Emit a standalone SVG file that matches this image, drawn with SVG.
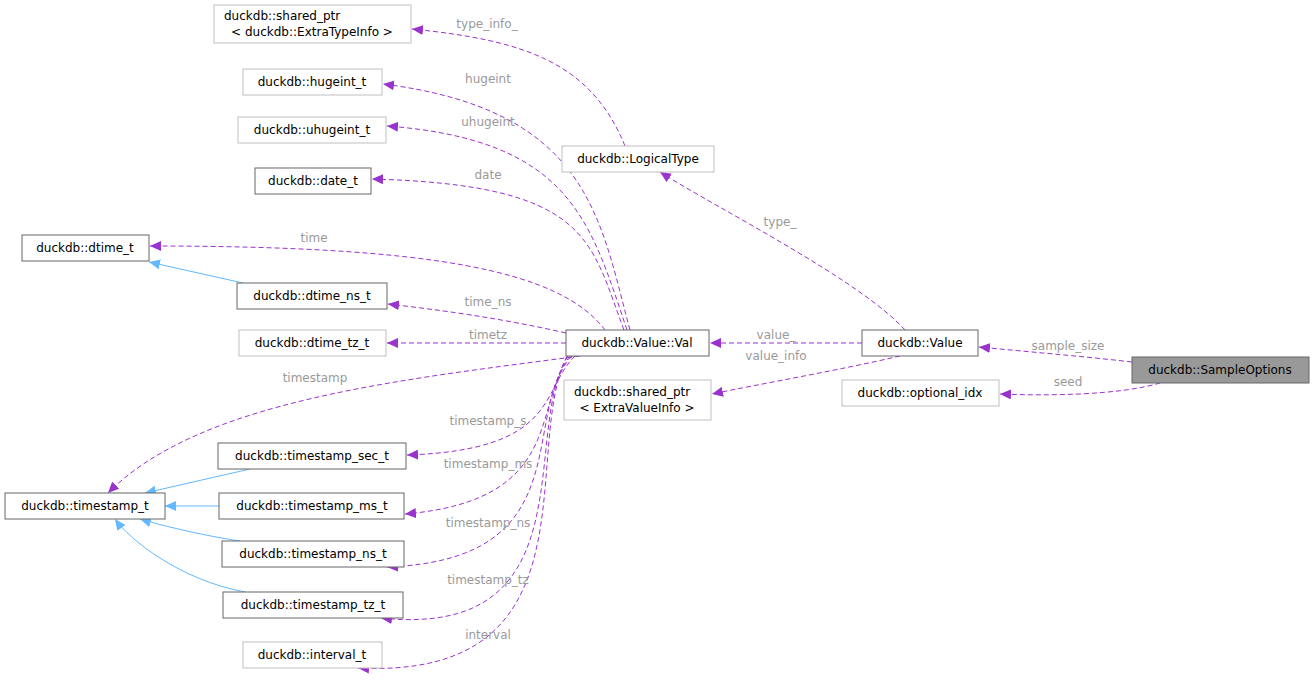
<svg xmlns="http://www.w3.org/2000/svg" width="1315" height="683" viewBox="0 0 1315 683">
<defs>
<style>
.n rect{fill:#fff;stroke:#666;stroke-width:1}
.n.l rect{stroke:#bfbfbf}
.n.f rect{fill:#999;stroke:#666}
text{font-family:"DejaVu Sans",sans-serif;font-size:12px;fill:#000}
.lb{fill:#9a9a9a;font-size:12px;text-anchor:middle}
.e{fill:none;stroke:#9a32cd;stroke-dasharray:5,3}
.i{fill:none;stroke:#63b8ff}
</style>
<marker id="ap" markerWidth="12" markerHeight="10" refX="11" refY="5" orient="auto" markerUnits="userSpaceOnUse"><path d="M0,0 L11,5 L0,10 z" fill="#9a32cd"/></marker>
<marker id="ab" markerWidth="12" markerHeight="10" refX="11" refY="5" orient="auto" markerUnits="userSpaceOnUse"><path d="M0,0 L11,5 L0,10 z" fill="#63b8ff"/></marker>
</defs>
<rect width="1315" height="683" fill="#fff"/>
<g id="edges">
<path class="e" marker-end="url(#ap)" d="M1132,362 C1080,356 1030,352 979,347"/>
<path class="e" marker-end="url(#ap)" d="M1160,383 C1120,395 1050,396 1000,394"/>
<path class="e" marker-end="url(#ap)" d="M862,343 L710,343"/>
<path class="e" marker-end="url(#ap)" d="M900,356 C840,370 760,384 712,394"/>
<path class="e" marker-end="url(#ap)" d="M905,330 C860,280 720,210 660,172"/>
<path class="e" marker-end="url(#ap)" d="M625,146 C590,60 520,40 412,29"/>
<path class="e" marker-end="url(#ap)" d="M630,330 C600,220 590,110 383,84"/>
<path class="e" marker-end="url(#ap)" d="M627,330 C590,220 570,140 387,126"/>
<path class="e" marker-end="url(#ap)" d="M624,330 C590,240 590,185 372,179"/>
<path class="e" marker-end="url(#ap)" d="M605,330 C560,270 430,246 150,246"/>
<path class="e" marker-end="url(#ap)" d="M566,333 C500,318 440,310 388,304"/>
<path class="e" marker-end="url(#ap)" d="M566,343 L387,343"/>
<path class="e" marker-end="url(#ap)" d="M580,356 C400,380 200,400 108,493"/>
<path class="e" marker-end="url(#ap)" d="M575,356 C540,390 560,450 407,455"/>
<path class="e" marker-end="url(#ap)" d="M572,356 C530,400 570,500 405,514"/>
<path class="e" marker-end="url(#ap)" d="M570,356 C520,420 580,560 387,567"/>
<path class="e" marker-end="url(#ap)" d="M568,356 C520,430 590,640 381,618"/>
<path class="e" marker-end="url(#ap)" d="M567,356 C520,450 600,680 358,668"/>
<path class="i" marker-end="url(#ab)" d="M243,283 L149,262"/>
<path class="i" marker-end="url(#ab)" d="M250,469 L145,493"/>
<path class="i" marker-end="url(#ab)" d="M219,506 L165,506"/>
<path class="i" marker-end="url(#ab)" d="M240,541 C200,535 160,525 140,519"/>
<path class="i" marker-end="url(#ab)" d="M245,592 C180,580 130,540 115,519"/>
<text class="lb" x="1068" y="350">sample_size</text>
<text class="lb" x="1068" y="386">seed</text>
<text class="lb" x="776" y="339">value_</text>
<text class="lb" x="776" y="360">value_info</text>
<text class="lb" x="780" y="226">type_</text>
<text class="lb" x="487" y="28">type_info_</text>
<text class="lb" x="488" y="83">hugeint</text>
<text class="lb" x="488" y="126">uhugeint</text>
<text class="lb" x="488" y="179">date</text>
<text class="lb" x="314" y="242">time</text>
<text class="lb" x="488" y="306">time_ns</text>
<text class="lb" x="488" y="339">timetz</text>
<text class="lb" x="315" y="382">timestamp</text>
<text class="lb" x="488" y="425">timestamp_s</text>
<text class="lb" x="488" y="468">timestamp_ms</text>
<text class="lb" x="488" y="527">timestamp_ns</text>
<text class="lb" x="488" y="584">timestamp_tz</text>
<text class="lb" x="488" y="639">interval</text>
</g>
<g id="n1" class="n l"><rect x="214" y="5" width="197" height="38"/><text x="224" y="20">duckdb::shared_ptr</text><text x="312" y="36" text-anchor="middle">&lt; duckdb::ExtraTypeInfo &gt;</text></g>
<g id="n2" class="n l"><rect x="243" y="69" width="139" height="26"/><text x="312" y="86" text-anchor="middle">duckdb::hugeint_t</text></g>
<g id="n3" class="n l"><rect x="238" y="117" width="148" height="26"/><text x="312" y="134" text-anchor="middle">duckdb::uhugeint_t</text></g>
<g id="n4" class="n"><rect x="255" y="168" width="116" height="26"/><text x="313" y="185" text-anchor="middle">duckdb::date_t</text></g>
<g id="n5" class="n"><rect x="22" y="235" width="127" height="26"/><text x="85" y="252" text-anchor="middle">duckdb::dtime_t</text></g>
<g id="n6" class="n"><rect x="237" y="283" width="150" height="26"/><text x="312" y="300" text-anchor="middle">duckdb::dtime_ns_t</text></g>
<g id="n7" class="n l"><rect x="239" y="330" width="147" height="26"/><text x="312" y="347" text-anchor="middle">duckdb::dtime_tz_t</text></g>
<g id="n8" class="n"><rect x="5" y="493" width="160" height="26"/><text x="85" y="510" text-anchor="middle">duckdb::timestamp_t</text></g>
<g id="n9" class="n"><rect x="218" y="443" width="188" height="26"/><text x="312" y="460" text-anchor="middle">duckdb::timestamp_sec_t</text></g>
<g id="n10" class="n"><rect x="219" y="493" width="185" height="26"/><text x="312" y="510" text-anchor="middle">duckdb::timestamp_ms_t</text></g>
<g id="n11" class="n"><rect x="222" y="541" width="182" height="26"/><text x="313" y="558" text-anchor="middle">duckdb::timestamp_ns_t</text></g>
<g id="n12" class="n"><rect x="223" y="592" width="180" height="26"/><text x="313" y="609" text-anchor="middle">duckdb::timestamp_tz_t</text></g>
<g id="n13" class="n l"><rect x="243" y="642" width="139" height="26"/><text x="312" y="659" text-anchor="middle">duckdb::interval_t</text></g>
<g id="n14" class="n l"><rect x="562" y="146" width="152" height="26"/><text x="638" y="163" text-anchor="middle">duckdb::LogicalType</text></g>
<g id="n15" class="n"><rect x="566" y="330" width="143" height="26"/><text x="637" y="347" text-anchor="middle">duckdb::Value::Val</text></g>
<g id="n16" class="n l"><rect x="564" y="380" width="147" height="40"/><text x="574" y="396">duckdb::shared_ptr</text><text x="637" y="412" text-anchor="middle">&lt; ExtraValueInfo &gt;</text></g>
<g id="n17" class="n"><rect x="862" y="330" width="116" height="26"/><text x="920" y="347" text-anchor="middle">duckdb::Value</text></g>
<g id="n18" class="n l"><rect x="842" y="380" width="157" height="26"/><text x="920" y="397" text-anchor="middle">duckdb::optional_idx</text></g>
<g id="n19" class="n f"><rect x="1132" y="357" width="177" height="26"/><text x="1220" y="374" text-anchor="middle">duckdb::SampleOptions</text></g>
</svg>
